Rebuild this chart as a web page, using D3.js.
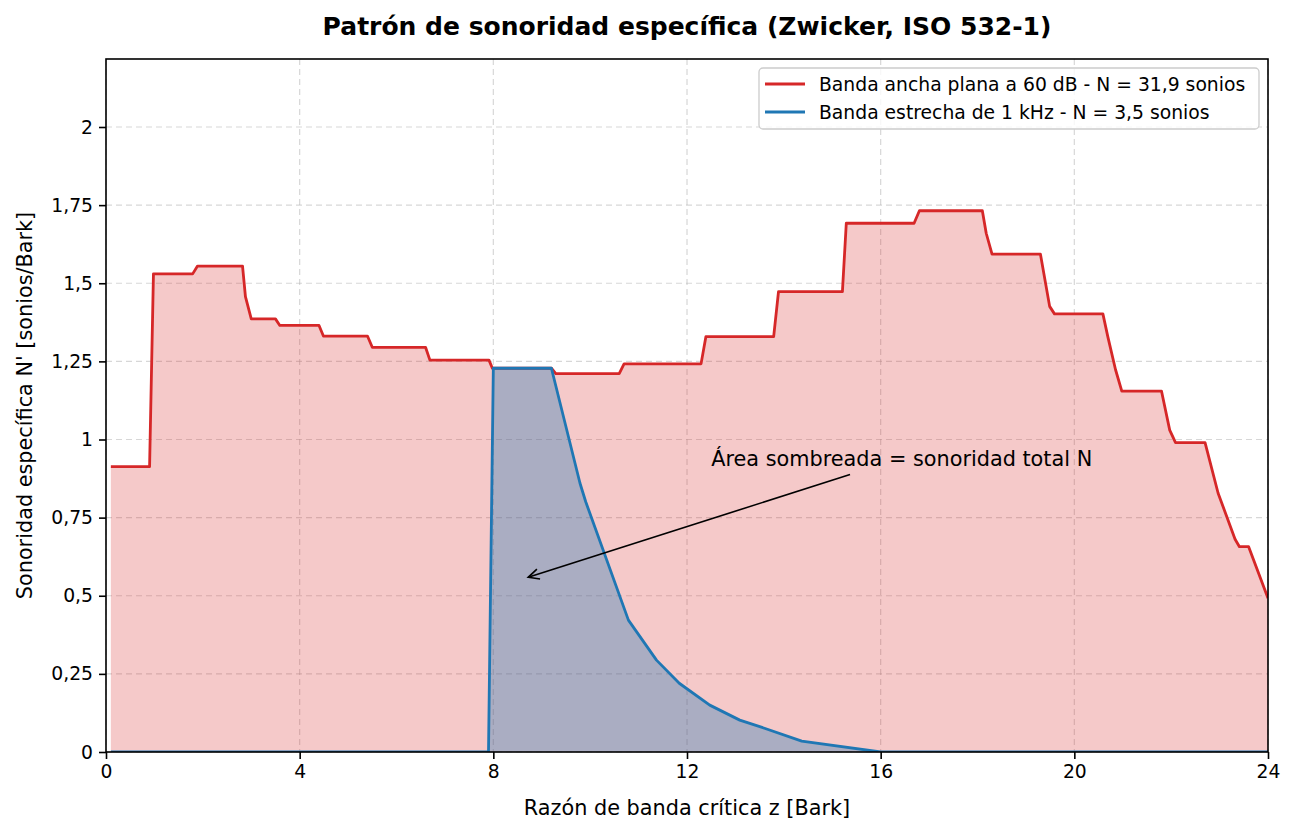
<!DOCTYPE html>
<html>
<head>
<meta charset="utf-8">
<script src="https://cdn.jsdelivr.net/npm/d3@7"></script>
<style>
  body { margin: 0; background: #fff; }
  text { font-family: "DejaVu Sans", sans-serif; }
</style>
</head>
<body>
<div id="chart"></div>
<script>
// critical band rate z [Bark] and specific loudness N' [sone/Bark]
var redZ = [0.1, 0.9, 0.98, 1.79, 1.89, 2.82, 2.88, 3.0, 3.5, 3.59,
            4.4, 4.49, 5.4, 5.5, 6.6, 6.69, 7.91, 7.98, 9.2, 9.29,
            10.6, 10.7, 12.29, 12.39, 13.79, 13.89, 15.21, 15.29, 16.69, 16.8,
            18.1, 18.18, 18.3, 19.3, 19.49, 19.59, 20.59, 20.69, 20.85, 20.98,
            21.8, 21.97, 22.09, 22.7, 22.97, 23.32, 23.41, 23.6, 24.0];
var redN = [0.913, 0.913, 1.53, 1.53, 1.555, 1.555, 1.457, 1.386, 1.386, 1.365,
            1.365, 1.331, 1.331, 1.295, 1.295, 1.254, 1.254, 1.228, 1.228, 1.211,
            1.211, 1.242, 1.242, 1.329, 1.329, 1.473, 1.473, 1.692, 1.692, 1.732,
            1.732, 1.66, 1.593, 1.593, 1.426, 1.402, 1.402, 1.33, 1.224, 1.155,
            1.155, 1.03, 0.99, 0.99, 0.828, 0.681, 0.657, 0.657, 0.492];

var blueZ = [0.1, 7.9, 8.0, 9.2, 9.79, 9.91, 10.79, 11.37, 11.84, 12.47, 13.09, 13.6, 14.37, 16.0, 24.0];
var blueN = [0, 0, 1.228, 1.228, 0.86, 0.80, 0.422, 0.294, 0.22, 0.15, 0.102, 0.076, 0.035, 0, 0];

var seriesNames = ["Banda ancha plana a 60 dB - N = 31,9 sonios",
                   "Banda estrecha de 1 kHz - N = 3,5 sonios"];
var xTicks = [0, 4, 8, 12, 16, 20, 24];
var yTicks = [0, 0.25, 0.5, 0.75, 1, 1.25, 1.5, 1.75, 2];

var note = {text: "Área sombreada = sonoridad total N", tx: 12.5, ty: 0.94, ax: 8.72, ay: 0.559};

var margin = {top: 59, right: 28, bottom: 81, left: 106};
var W = 1296, H = 833;
var w = W - margin.left - margin.right,
    h = H - margin.top - margin.bottom;

var svg = d3.select('#chart')
    .append('svg')
    .attr('width', W)
    .attr('height', H);

svg.append('defs').append('clipPath').attr('id', 'clip')
    .append('rect').attr('width', w).attr('height', h);

var g = svg.append('g')
    .attr('transform', 'translate(' + margin.left + ',' + margin.top + ')');

var x = d3.scaleLinear().domain([0, 24]).range([0, w]);
var y = d3.scaleLinear().domain([0, 2.2176]).range([h, 0]);

var fmt = function(d){ return d3.format('~g')(d).replace('.', ','); };

// grid
g.append('g').selectAll('line').data(xTicks).enter().append('line')
    .attr('x1', function(d){return x(d);}).attr('x2', function(d){return x(d);})
    .attr('y1', 0).attr('y2', h)
    .attr('stroke', '#b0b0b0').attr('stroke-opacity', 0.5).attr('stroke-width', 1.2)
    .attr('stroke-dasharray', '6,4');
g.append('g').selectAll('line').data(yTicks).enter().append('line')
    .attr('y1', function(d){return y(d);}).attr('y2', function(d){return y(d);})
    .attr('x1', 0).attr('x2', w)
    .attr('stroke', '#b0b0b0').attr('stroke-opacity', 0.5).attr('stroke-width', 1.2)
    .attr('stroke-dasharray', '6,4');

var red = redZ.map(function(z, i){ return [z, redN[i]]; });
var blue = blueZ.map(function(z, i){ return [z, blueN[i]]; });

var area = d3.area()
    .x(function(d){return x(d[0]);})
    .y0(y(0))
    .y1(function(d){return y(d[1]);});
var line = d3.line()
    .x(function(d){return x(d[0]);})
    .y(function(d){return y(d[1]);});

var plot = g.append('g').attr('clip-path', 'url(#clip)');

plot.append('path').datum(red).attr('d', area)
    .attr('fill', '#d62728').attr('fill-opacity', 0.25);
plot.append('path').datum(blue).attr('d', area)
    .attr('fill', '#1f77b4').attr('fill-opacity', 0.35);
plot.append('path').datum(red).attr('d', line)
    .attr('fill', 'none').attr('stroke', '#d62728').attr('stroke-width', 2.8)
    .attr('stroke-linejoin', 'round');
plot.append('path').datum(blue).attr('d', line)
    .attr('fill', 'none').attr('stroke', '#1f77b4').attr('stroke-width', 2.8)
    .attr('stroke-linejoin', 'round');

// annotation
var txt = g.append('text')
    .attr('x', x(note.tx)).attr('y', y(note.ty))
    .attr('dy', '0.35em')
    .attr('font-size', 20.8)
    .attr('fill', '#000')
    .text(note.text);
var bb = txt.node().getBBox();
var cx = bb.x + bb.width / 2, cy = bb.y + bb.height / 2;
var px = x(note.ax), py = y(note.ay);
var t = (bb.height / 2 + 4) / (py - cy);
var sx = cx + (px - cx) * t, sy = cy + (py - cy) * t;
g.append('line')
    .attr('x1', sx).attr('y1', sy).attr('x2', px).attr('y2', py)
    .attr('stroke', '#000').attr('stroke-width', 1.6);
var ang = Math.atan2(py - sy, px - sx);
var head = [ang + Math.PI - 0.45, ang + Math.PI + 0.45].map(function(a){
    return [px + 12 * Math.cos(a), py + 12 * Math.sin(a)];
});
g.append('path')
    .attr('d', 'M' + head[0] + 'L' + px + ',' + py + 'L' + head[1])
    .attr('fill', 'none').attr('stroke', '#000').attr('stroke-width', 1.6);

// axes
var xAxis = g.append('g').attr('transform', 'translate(0,' + h + ')')
    .call(d3.axisBottom(x).tickValues(xTicks).tickFormat(fmt).tickSize(7).tickPadding(6));
var yAxis = g.append('g')
    .call(d3.axisLeft(y).tickValues(yTicks).tickFormat(fmt).tickSize(7).tickPadding(6));
[xAxis, yAxis].forEach(function(a){
    a.selectAll('text').attr('font-size', 18.75).attr('fill', '#000')
        .style('font-family', '"DejaVu Sans", sans-serif');
    a.selectAll('.tick line').attr('stroke', '#000').attr('stroke-width', 1.6);
    a.select('.domain').remove();
});

g.append('rect').attr('width', w).attr('height', h)
    .attr('fill', 'none').attr('stroke', '#000').attr('stroke-width', 1.6);

// labels
svg.append('text')
    .attr('x', margin.left + w / 2).attr('y', 815)
    .attr('text-anchor', 'middle').attr('font-size', 20.8)
    .text('Razón de banda crítica z [Bark]');
svg.append('text')
    .attr('transform', 'translate(32,' + (margin.top + h / 2) + ') rotate(-90)')
    .attr('text-anchor', 'middle').attr('font-size', 20.8)
    .text("Sonoridad específica N' [sonios/Bark]");
svg.append('text')
    .attr('x', margin.left + w / 2).attr('y', 35)
    .attr('text-anchor', 'middle').attr('font-size', 25).attr('font-weight', 'bold')
    .text('Patrón de sonoridad específica (Zwicker, ISO 532-1)');

// legend
var lg = g.append('g').attr('transform', 'translate(' + (w - 509) + ',9)');
lg.append('rect').attr('width', 500).attr('height', 61).attr('rx', 4)
    .attr('fill', '#fff').attr('fill-opacity', 0.8)
    .attr('stroke', '#ccc').attr('stroke-width', 1.3);
var colors = ['#d62728', '#1f77b4'];
seriesNames.forEach(function(name, i){
    var yy = 16 + i * 28;
    lg.append('line').attr('x1', 6).attr('x2', 46).attr('y1', yy).attr('y2', yy)
        .attr('stroke', colors[i]).attr('stroke-width', 2.8);
    lg.append('text').attr('x', 60).attr('y', yy).attr('dy', '0.35em')
        .attr('font-size', 18.75).text(name);
});
</script>
</body>
</html>
